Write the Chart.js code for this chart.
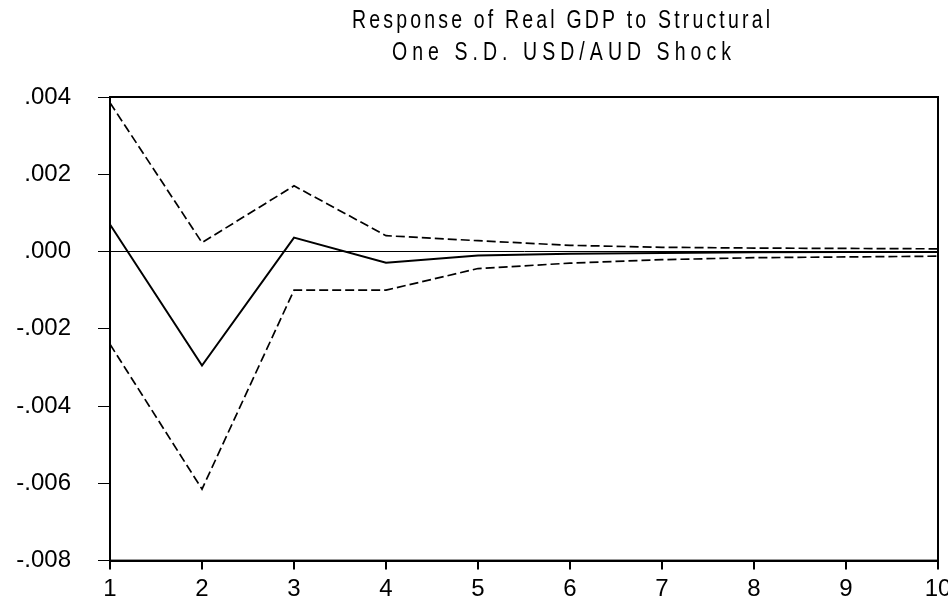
<!DOCTYPE html>
<html>
<head>
<meta charset="utf-8">
<script src="https://cdn.jsdelivr.net/npm/chart.js@4.4.0/dist/chart.umd.min.js"></script>
<style>
html, body { margin: 0; padding: 0; background: #fff; }
#wrap { width: 948px; height: 602px; }
</style>
</head>
<body>
<div id="wrap"><canvas id="irf" width="948" height="602"></canvas></div>
<script>
// impulse response periods and values
var periods = [1, 2, 3, 4, 5, 6, 7, 8, 9, 10];
var response = [0.0007, -0.00295, 0.00036, -0.00029, -0.0001, -0.00006, -0.00004, -0.00002, -0.00001, -0.00001];
var upperBand = [0.00385, 0.00023, 0.0017, 0.00041, 0.00028, 0.00016, 0.00011, 0.00009, 0.00008, 0.00007];
var lowerBand = [-0.0024, -0.00615, -0.001, -0.001, -0.00044, -0.0003, -0.00021, -0.00016, -0.00014, -0.00012];
var yTicks = [0.004, 0.002, 0, -0.002, -0.004, -0.006, -0.008];
var titleLines = ['Response of Real GDP to Structural', 'One S.D. USD/AUD Shock'];

function pts(arr) {
	return periods.map(function(p, i) { return {x: p, y: arr[i]}; });
}

function fmt(v) {
	if (Math.abs(v) < 1e-9) return '.000';
	var s = Math.abs(v).toFixed(3).replace(/^0/, '');
	return (v < 0 ? '-' : '') + s;
}

/* title with narrow spaced letters, frame round the plot */
var framePlugin = {
	id: 'frame',
	afterDraw: function(chart) {
		var c = chart.ctx, a = chart.chartArea;
		c.save();
		c.strokeStyle = '#000';
		c.lineWidth = 2;
		c.strokeRect(a.left, a.top, a.right - a.left, a.bottom - a.top);
		c.restore();

		var sx = 0.78;
		var spans = [[352, 770], [392, 731]];
		var base = [28, 60];
		titleLines.forEach(function(t, i) {
			c.save();
			c.fillStyle = '#000';
			c.font = '25px "Liberation Sans", Arial, sans-serif';
			c.textAlign = 'left';
			c.textBaseline = 'alphabetic';
			c.letterSpacing = '0px';
			var w0 = c.measureText(t).width;
			var target = (spans[i][1] - spans[i][0]) / sx;
			var sp = (target - w0) / (t.length - 1);
			c.letterSpacing = sp + 'px';
			c.scale(sx, 1);
			c.fillText(t, spans[i][0] / sx, base[i]);
			c.restore();
		});
	}
};

var ctx = document.getElementById('irf').getContext('2d');
var myChart = new Chart(ctx, {
	type: 'line',
	data: {
		datasets: [
			{ data: pts(upperBand), borderColor: '#000', borderWidth: 1.7, borderDash: [9, 4], pointRadius: 0, tension: 0, fill: false },
			{ data: pts(response), borderColor: '#000', borderWidth: 2, pointRadius: 0, tension: 0, fill: false },
			{ data: pts(lowerBand), borderColor: '#000', borderWidth: 1.7, borderDash: [9, 4], pointRadius: 0, tension: 0, fill: false }
		]
	},
	options: {
		responsive: false,
		animation: false,
		layout: { padding: { top: 97, right: 10, left: 0, bottom: 0 } },
		plugins: { legend: { display: false }, tooltip: { enabled: false }, title: { display: false } },
		scales: {
			x: {
				type: 'linear',
				min: 1,
				max: 10,
				afterBuildTicks: function(s) { s.ticks = periods.map(function(p) { return {value: p}; }); },
				afterFit: function(s) { s.height = 39; s.paddingRight = 0; s.paddingLeft = 0; },
				grid: { drawOnChartArea: false, color: '#000', lineWidth: 2, tickLength: 9 },
				border: { color: '#000', width: 2 },
				ticks: { color: '#000', font: { family: '"Liberation Sans", Arial, sans-serif', size: 24 }, padding: 5, maxRotation: 0 }
			},
			y: {
				min: -0.008,
				max: 0.004,
				afterBuildTicks: function(s) { s.ticks = yTicks.map(function(v) { return {value: v}; }); },
				afterFit: function(s) { s.width = 110; },
				grid: {
					color: function(c) { return Math.abs(c.tick.value) < 1e-9 ? '#000' : 'rgba(0,0,0,0)'; },
					tickColor: '#000',
					lineWidth: 1,
					tickLength: 12
				},
				border: { color: '#000', width: 2 },
				ticks: {
					color: '#000',
					font: { family: '"Liberation Sans", Arial, sans-serif', size: 24 },
					padding: 27,
					callback: function(v) { return fmt(v); }
				}
			}
		}
	},
	plugins: [framePlugin]
});
</script>
</body>
</html>
